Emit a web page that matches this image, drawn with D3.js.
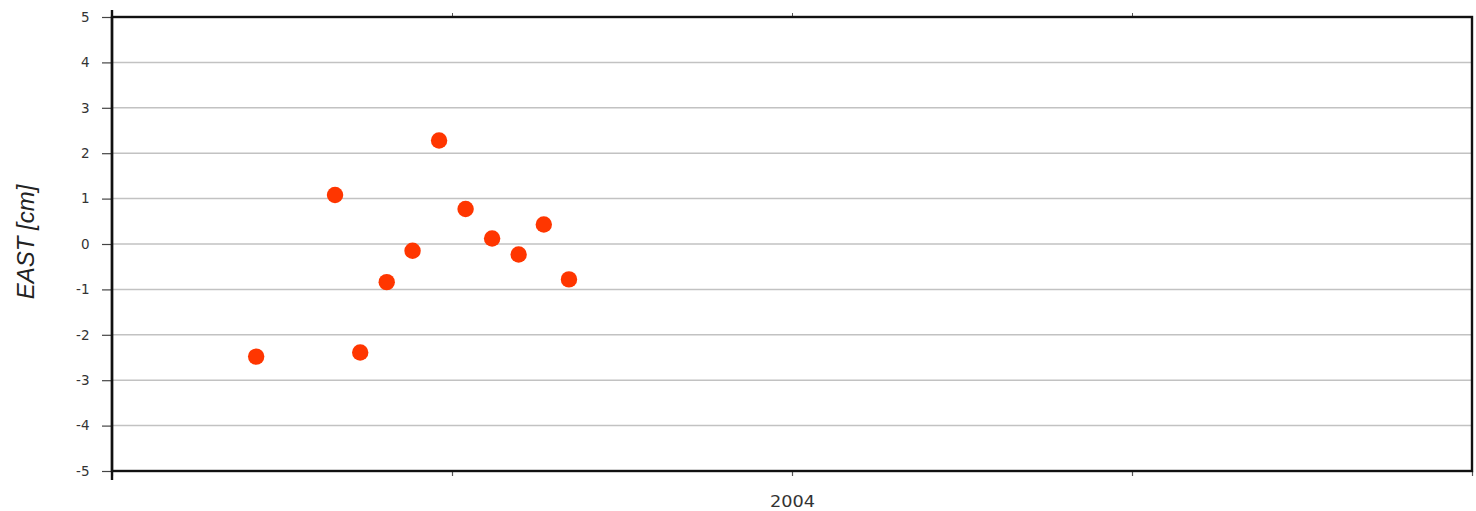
<!DOCTYPE html>
<html>
<head>
<meta charset="utf-8">
<script src="https://cdn.jsdelivr.net/npm/d3@7"></script>
<style>
  html, body { margin: 0; padding: 0; background: #fff; }
  svg { display: block; }
</style>
</head>
<body>
<svg id="chart" width="1476" height="511"></svg>
<script>
// Data (decimal year, east offset in cm)
const times = [2003.212, 2003.328, 2003.365, 2003.404, 2003.442, 2003.481, 2003.520, 2003.559, 2003.598, 2003.635, 2003.672];
const east  = [-2.48, 1.08, -2.39, -0.84, -0.15, 2.28, 0.77, 0.12, -0.23, 0.43, -0.78];
const xTicks = [2003.0, 2003.5, 2004.0, 2004.5, 2005.0];
const xTickLabels = ["", "", "2004", "", ""];
const yTicks = [-5, -4, -3, -2, -1, 0, 1, 2, 3, 4, 5];
const yLabel = "EAST [cm]";

const svg = d3.select("#chart");
const mLeft = 112, mRight = 1472, mTop = 17, mBottom = 471;

const x = d3.scaleLinear().domain([2003, 2005]).range([mLeft, mRight]);
const y = d3.scaleLinear().domain([-5, 5]).range([mBottom, mTop]);

// gridlines
svg.append("g")
  .selectAll("line")
  .data(yTicks.filter(d => d > -5 && d < 5))
  .join("line")
  .attr("x1", mLeft).attr("x2", mRight)
  .attr("y1", d => y(d)).attr("y2", d => y(d))
  .attr("stroke", "#c2c2c2").attr("stroke-width", 1.5);

// left axis
const yAxis = d3.axisLeft(y).tickValues(yTicks).tickSize(10).tickPadding(12.5).tickFormat(d => String(d));
const gy = svg.append("g").attr("transform", `translate(${mLeft},0)`).call(yAxis);
gy.select(".domain").remove();
gy.selectAll(".tick line").attr("stroke", "#444").attr("stroke-width", 1.2);
gy.selectAll(".tick text")
  .attr("font-family", "DejaVu Sans, sans-serif")
  .attr("font-size", 13.5).attr("fill", "#333");

// bottom axis
const xAxis = d3.axisBottom(x).tickValues(xTicks).tickSize(5)
  .tickFormat((d, i) => xTickLabels[i]).tickPadding(20.5);
const gx = svg.append("g").attr("transform", `translate(0,${mBottom})`).call(xAxis);
gx.select(".domain").remove();
gx.selectAll(".tick line").attr("stroke", "#555").attr("stroke-width", 1.2);
gx.selectAll(".tick text")
  .attr("font-family", "DejaVu Sans, sans-serif")
  .attr("font-size", 15).attr("fill", "#333")
  .each(function() {
    if (this.textContent) d3.select(this).attr("textLength", 45).attr("lengthAdjust", "spacingAndGlyphs");
  });

// top ticks
const xAxisTop = d3.axisTop(x).tickValues(xTicks.slice(1, -1)).tickSize(4).tickFormat("");
const gxt = svg.append("g").attr("transform", `translate(0,${mTop})`).call(xAxisTop);
gxt.select(".domain").remove();
gxt.selectAll(".tick line").attr("stroke", "#555").attr("stroke-width", 1);

// left axis line extending past the frame
svg.append("line")
  .attr("x1", mLeft).attr("x2", mLeft)
  .attr("y1", y(5) - 7).attr("y2", y(-5) + 9)
  .attr("stroke", "#111").attr("stroke-width", 2.4);

// frame
svg.append("rect")
  .attr("x", mLeft).attr("y", mTop)
  .attr("width", mRight - mLeft).attr("height", mBottom - mTop)
  .attr("fill", "none").attr("stroke", "#111").attr("stroke-width", 2.4);

// points
svg.append("g")
  .selectAll("circle")
  .data(times.map((t, i) => [t, east[i]]))
  .join("circle")
  .attr("cx", d => x(d[0]))
  .attr("cy", d => y(d[1]))
  .attr("r", 8.2)
  .attr("fill", "#ff3600");

// y label
svg.append("text")
  .attr("transform", `translate(34,${y(0) - 2}) rotate(-90)`)
  .attr("text-anchor", "middle")
  .attr("font-family", "Liberation Sans, Arial, sans-serif")
  .attr("font-style", "italic")
  .attr("font-size", 24)
  .attr("fill", "#222")
  .text(yLabel);
</script>
</body>
</html>
